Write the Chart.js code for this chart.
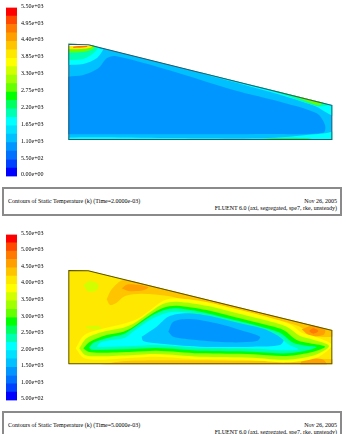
<!DOCTYPE html>
<html>
<head>
<meta charset="utf-8">
<title>Contours of Static Temperature</title>
<script src="https://cdn.jsdelivr.net/npm/chart.js@4/dist/chart.umd.min.js"></script>
<style>
  html, body { margin: 0; padding: 0; background: #fff; overflow: hidden; }
  #page { position: relative; width: 346px; height: 434px; overflow: hidden; }
  canvas { position: absolute; }
  .footer { position: absolute; left: 2px; width: 336px; border: 2px solid #8a8a8a; box-sizing: content-box; }
  .footer span { position: absolute; white-space: nowrap; font: 6px/6px "Liberation Serif", serif; color: #000; }
</style>
</head>
<body>
<div id="page">
  <canvas id="bar1" width="50" height="184" style="left:0;top:0"></canvas>
  <canvas id="field1" width="280" height="110" style="left:60px;top:36px"></canvas>
  <div class="footer" style="top:187px;height:25px">
    <span style="left:4px;top:9px">Contours of Static Temperature (k)  (Time=2.0000e-03)</span>
    <span style="right:3px;top:9px">Nov 26, 2005</span>
    <span style="right:3px;top:16px">FLUENT 6.0 (axi, segregated, spe7, rke, unsteady)</span>
  </div>
  <canvas id="bar2" width="50" height="181" style="left:0;top:227px"></canvas>
  <canvas id="field2" width="280" height="108" style="left:60px;top:262px"></canvas>
  <div class="footer" style="top:411px;height:40px">
    <span style="left:4px;top:9px">Contours of Static Temperature (k)  (Time=5.0000e-03)</span>
    <span style="right:3px;top:9px">Nov 26, 2005</span>
    <span style="right:3px;top:16px">FLUENT 6.0 (axi, segregated, spe7, rke, unsteady)</span>
  </div>
</div>
<script>
// colour map, coldest band first
const bandColors = ['#0000ff','#0040ff','#0070ff','#0096ff','#00c0ff','#00e0ff','#00ffff','#00ffb0','#00ff60','#00ff00',
                    '#66ff00','#a0ff00','#d2ff00','#ffff00','#ffe800','#ffc400','#ffa000','#ff7a00','#ff4800','#ff0000'];

// temperature levels (k) on the two colour bars
const levels1 = [0,275,550,825,1100,1375,1650,1925,2200,2475,2750,3025,3300,3575,3850,4125,4400,4675,4950,5225,5500];
const levels2 = [500,750,1000,1250,1500,1750,2000,2250,2500,2750,3000,3250,3500,3750,4000,4250,4500,4750,5000,5250,5500];

// t = 2e-3 s : contour regions as [axial, height] outlines
const shell1 = [[0,0],[792,0],[792,105],[60,287],[0,289],[0,0]];
const core1 = [[0,190],[45,195],[90,215],[115,245],[140,252],[300,210],[495,150],[645,112],[745,80],[770,45],[765,22],[600,18],[300,17],[0,17],[-10,17],[-10,100],[-10,190]];
const capCyan1 = [[0,225],[45,228],[85,245],[105,272],[100,272],[60,287],[-10,289],[-10,225]];
const capTeal1 = [[0,240],[45,243],[75,260],[88,278],[60,287],[-10,289],[-10,240]];
const capGreen1 = [[0,262],[45,264],[72,272],[80,282],[60,287],[-10,289],[-10,262]];
const capYellow1 = [[0,272],[50,274],[72,280],[60,287],[-10,289],[-10,272]];
const capRed1 = [[15,277],[55,279],[58,281],[15,280]];
const capEmpty1 = [[-10,290],[60,290],[66,284],[30,283],[-10,283]];
const slopeCyan1 = [[400,206],[495,182],[645,145],[740,121],[800,105],[800,72],[770,85],[745,100],[645,133],[495,174],[400,200]];
const slopeTeal1 = [[520,176],[645,145],[755,118],[778,104],[745,102],[645,136]];
const slopeGreen1 = [[600,156],[700,131],[765,116],[752,104],[690,126]];
const slopeYellow1 = [[680,136],[730,123],[752,116],[725,119]];
const baseCyan1 = [[-10,-5],[800,-5],[800,25],[770,20],[600,6],[300,6],[-10,7]];
const baseGreen1 = [[500,-5],[745,-5],[720,5],[620,6]];
const baseYellow1 = [[590,-5],[720,-5],[660,3]];

// t = 5e-3 s
const shell2 = [[0,0],[792,0],[792,103],[60,282],[0,283],[0,0]];
const amberSlope2 = [[115,195],[130,225],[165,253],[240,240],[400,202],[600,153],[735,120],[800,103],[800,85],[740,85],[690,115],[600,140],[480,170],[400,180],[300,205],[220,212],[170,205],[145,185],[125,178]];
const orangeSlope2 = [[160,228],[180,240],[240,232],[225,222],[180,220]];
const hotBlob2 = [[700,105],[730,116],[770,104],[765,88],[725,85]];
const hotCore2 = [[722,100],[735,108],[750,100],[735,92]];
const amberBase2 = [[80,-5],[800,-5],[800,15],[600,10],[400,12],[250,12],[150,8]];
const orangeBase2 = [[695,-5],[775,-5],[765,14],[725,17],[700,10]];
const coolSpotA2 = [[45,238],[65,250],[90,240],[85,222],[60,218]];
const coolSpotB2 = [[50,112],[90,115],[100,105],[60,107]];
const ring13 = [[22,48],[48,88],[108,108],[160,120],[205,135],[255,170],[288,192],[325,198],[425,185],[505,165],[585,145],[665,120],[700,95],[735,85],[790,58],[745,20],[655,6],[555,12],[395,15],[265,23],[195,20],[95,14],[45,20]];
const ring12 = [[33,48],[55,78],[110,99],[165,110],[200,125],[250,160],[285,182],[325,188],[420,175],[500,155],[580,135],[655,113],[695,85],[730,75],[782,55],[740,28],[655,14],[555,20],[395,23],[265,31],[195,28],[95,24],[50,28]];
const ring9 = [[45,48],[65,68],[115,88],[165,98],[195,113],[245,148],[285,170],[325,176],[415,163],[495,143],[575,123],[645,103],[685,73],[725,63],[770,53],[735,38],[655,25],[555,30],[395,33],[265,41],[195,38],[95,35],[60,38]];
const ring7 = [[62,50],[75,65],[120,80],[165,90],[190,105],[240,140],[285,162],[325,168],[410,155],[490,135],[570,115],[635,95],[675,65],[720,55],[745,52],[725,44],[655,33],[555,38],[395,41],[265,49],[195,46],[95,43],[70,44]];
const ring5 = [[85,52],[95,65],[125,72],[170,80],[190,95],[240,130],[285,152],[325,158],[405,147],[485,125],[560,105],[625,88],[660,60],[690,45],[655,42],[555,47],[395,50],[265,58],[195,55],[110,52]];
const ring4 = [[220,83],[265,113],[300,143],[355,153],[435,143],[515,123],[595,103],[645,73],[635,58],[555,53],[395,53],[265,63],[225,70]];
const ring3 = [[300,98],[315,128],[365,136],[445,123],[515,103],[575,83],[565,70],[485,66],[385,73],[315,83]];

Chart.defaults.animation = false;

const sci = v => {
  const [m, e] = Number(v).toExponential(2).split('e');
  return m + 'e' + e[0] + e.slice(1).padStart(2, '0');
};

function colorBar(id, levels) {
  new Chart(document.getElementById(id), {
    type: 'bar',
    data: {
      labels: ['T'],
      datasets: bandColors.map((c, i) => ({
        data: [[levels[i], levels[i + 1]]],
        backgroundColor: c,
        barPercentage: 1,
        categoryPercentage: 1,
        grouped: false
      }))
    },
    options: {
      responsive: false,
      layout: { padding: { left: 6, top: 5, bottom: 6 } },
      plugins: { legend: { display: false }, tooltip: { enabled: false } },
      scales: {
        x: { display: false },
        y: {
          position: 'right',
          min: levels[0],
          max: levels[20],
          afterBuildTicks: s => { s.ticks = levels.filter((v, i) => i % 2 == 0).map(value => ({ value })); },
          afterFit: s => { s.width = 33; },
          grid: { display: false, drawTicks: false, tickLength: 0 },
          border: { display: false },
          ticks: {
            autoSkip: false,
            padding: 4,
            labelOffset: -1.5,
            color: '#000',
            font: { family: 'Liberation Serif', size: 6 },
            callback: sci
          }
        }
      }
    }
  });
}

// keeps the contour fills inside the domain outline
const domainClip = {
  id: 'domainClip',
  beforeDatasetsDraw(chart, args, opts) {
    const { ctx, scales } = chart;
    ctx.save();
    ctx.beginPath();
    opts.outline.forEach(([x, y], i) => {
      const px = scales.x.getPixelForValue(x), py = scales.y.getPixelForValue(y);
      if (i == 0) ctx.moveTo(px, py); else ctx.lineTo(px, py);
    });
    ctx.closePath();
    ctx.clip();
  },
  afterDatasetsDraw(chart) {
    chart.ctx.restore();
  }
};

// each region is a closed filled line; the last in the list ends up on top
function field(id, regions, outline, edge, yMax, yMin) {
  const toPts = r => r.map(([x, y]) => ({ x, y }));
  const sets = regions.map(([pts, color], i) => ({
    data: toPts(pts.concat([pts[0]])),
    backgroundColor: color,
    borderWidth: 0,
    pointRadius: 0,
    showLine: true,
    tension: pts === outline ? 0 : 0.3,
    fill: 'shape',
    order: regions.length - i + 1
  }));
  sets.push({ data: toPts(outline), borderColor: edge, borderWidth: 2, pointRadius: 0, showLine: true, tension: 0, fill: false, order: 0 });
  new Chart(document.getElementById(id), {
    type: 'scatter',
    data: { datasets: sets },
    plugins: [domainClip],
    options: {
      responsive: false,
      plugins: { legend: { display: false }, tooltip: { enabled: false }, domainClip: { outline } },
      scales: {
        x: { display: false, min: -25, max: 815 },
        y: { display: false, min: yMin, max: yMax }
      }
    }
  });
}

colorBar('bar1', levels1);
colorBar('bar2', levels2);

field('field1', [
  [shell1, bandColors[4]], [core1, bandColors[3]],
  [slopeCyan1, bandColors[6]], [slopeTeal1, bandColors[7]], [slopeGreen1, bandColors[10]], [slopeYellow1, bandColors[14]],
  [baseCyan1, bandColors[6]], [baseGreen1, bandColors[8]], [baseYellow1, bandColors[13]],
  [capCyan1, bandColors[6]], [capTeal1, bandColors[7]], [capGreen1, bandColors[10]], [capYellow1, bandColors[14]],
  [capRed1, bandColors[18]], [capEmpty1, '#ffffff']
], shell1, '#2b5c6b', 312, -18);

field('field2', [
  [shell2, bandColors[14]], [amberSlope2, bandColors[15]], [orangeSlope2, bandColors[16]],
  [amberBase2, bandColors[15]], [orangeBase2, bandColors[16]], [hotBlob2, bandColors[16]], [hotCore2, bandColors[17]],
  [coolSpotA2, bandColors[12]], [coolSpotB2, bandColors[12]],
  [ring13, bandColors[13]], [ring12, bandColors[11]], [ring9, bandColors[9]], [ring7, bandColors[7]],
  [ring5, bandColors[6]], [ring4, bandColors[4]], [ring3, bandColors[3]]
], shell2, '#5c5200', 307, -17);
</script>
</body>
</html>
